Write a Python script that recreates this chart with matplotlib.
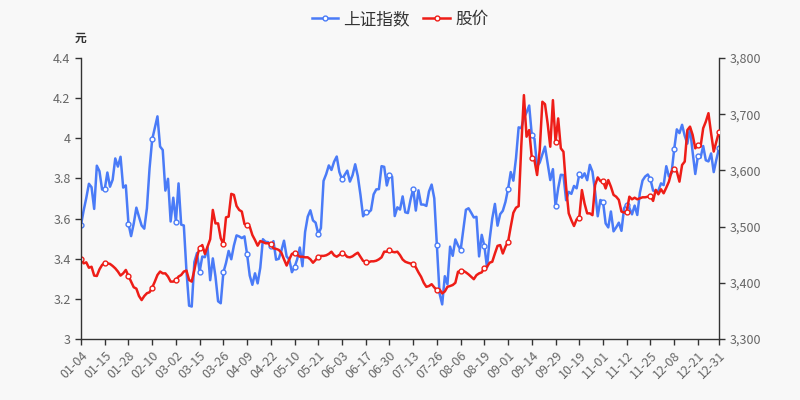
import matplotlib.pyplot as plt
import numpy as np
import pandas as pd

plt.rcParams['font.family'] = ['Noto Sans CJK SC', 'DejaVu Sans']

# trading days of 2021 (weekdays minus exchange holidays)
holidays = ['2021-01-01', '2021-02-11', '2021-02-12', '2021-02-15', '2021-02-16',
            '2021-02-17', '2021-04-05', '2021-05-03', '2021-05-04', '2021-05-05',
            '2021-06-14', '2021-09-20', '2021-09-21', '2021-10-01', '2021-10-04',
            '2021-10-05', '2021-10-06', '2021-10-07']
days = pd.bdate_range('2021-01-04', '2021-12-31')
days = days[~days.isin(pd.to_datetime(holidays))]
dates = [d.strftime('%m-%d') for d in days]

# 上证指数 (right axis)
index_jan = [3502.96, 3528.68, 3550.88, 3576.20, 3570.11, 3531.50, 3608.34, 3598.65, 3565.90, 3566.38,
             3596.22, 3571.00, 3583.35, 3621.26, 3606.75, 3624.24, 3569.43, 3573.34, 3505.18, 3483.07]
index_feb = [3505.28, 3533.68, 3517.31, 3501.86, 3496.33, 3532.44, 3603.49, 3655.09, 3675.36, 3696.17,
             3642.44, 3636.36, 3564.08, 3585.05, 3509.08]
index_mar = [3551.40, 3508.59, 3576.90, 3503.49, 3501.99, 3421.41, 3359.29, 3357.74, 3436.83, 3453.08,
             3419.95, 3446.73, 3445.55, 3463.07, 3404.66, 3443.44, 3411.51, 3367.06, 3363.59, 3418.33,
             3435.30, 3456.68, 3441.91]
index_apr = [3466.33, 3484.39, 3482.48, 3479.63, 3482.56, 3450.68, 3412.95, 3396.47, 3416.86, 3398.99,
             3426.62, 3477.55, 3472.94, 3472.31, 3465.11, 3474.17, 3441.17, 3442.61, 3457.07, 3474.90,
             3446.86]
index_may = [3441.28, 3418.87, 3427.99, 3441.85, 3462.75, 3429.54, 3490.38, 3517.62, 3529.01, 3510.96,
             3506.94, 3486.56, 3497.28, 3581.34, 3593.36, 3608.85, 3600.78, 3615.48]
index_jun = [3624.71, 3597.14, 3584.22, 3591.84, 3599.54, 3580.11, 3591.40, 3610.86, 3589.75, 3556.56,
             3518.33, 3525.10, 3525.00, 3529.18, 3557.41, 3566.22, 3566.65, 3607.56, 3606.37, 3573.18,
             3591.20]
index_jul = [3588.78, 3518.76, 3534.32, 3530.26, 3553.72, 3525.50, 3524.09, 3547.84, 3566.73, 3528.50,
             3564.59, 3539.30, 3539.12, 3536.79, 3562.64, 3574.73, 3550.40, 3467.44, 3381.18, 3361.59,
             3411.72, 3397.36]
index_aug = [3464.29, 3447.99, 3477.22, 3466.56, 3458.23, 3494.63, 3529.93, 3532.62, 3524.74, 3516.30,
             3517.34, 3446.98, 3485.29, 3465.55, 3427.33, 3477.13, 3514.47, 3540.38, 3501.66, 3522.16,
             3528.15, 3543.94]
index_sep = [3567.10, 3597.04, 3581.73, 3621.86, 3676.59, 3675.19, 3693.13, 3703.11, 3715.37, 3662.60,
             3656.22, 3607.09, 3613.97, 3628.49, 3642.22, 3613.07, 3582.83, 3602.22, 3536.29, 3568.17]
index_oct = [3592.17, 3591.71, 3546.94, 3561.76, 3558.28, 3572.37, 3568.14, 3593.15, 3587.00, 3594.78,
             3582.60, 3609.86, 3597.64, 3562.31, 3518.42, 3547.34]
index_nov = [3544.48, 3505.63, 3498.54, 3526.87, 3491.57, 3498.63, 3507.00, 3492.46, 3532.79, 3539.10,
             3533.30, 3521.79, 3537.37, 3520.71, 3560.37, 3582.08, 3589.09, 3592.70, 3584.18, 3564.09,
             3562.70, 3563.89]
index_dec = [3576.89, 3573.84, 3607.43, 3589.31, 3595.09, 3637.57, 3673.04, 3666.35, 3681.08, 3661.53,
             3647.63, 3675.02, 3632.36, 3593.60, 3625.13, 3622.62, 3643.34, 3618.05, 3615.97, 3630.11,
             3597.00, 3619.19, 3639.78]

# 股价 (left axis, 元)
price_1 = [3.397, 3.377, 3.382, 3.355, 3.360, 3.316, 3.314, 3.347, 3.369, 3.379,
           3.377, 3.374, 3.364, 3.352, 3.336, 3.316, 3.327, 3.344, 3.314, 3.286,
           3.258, 3.251, 3.214, 3.194, 3.214, 3.228, 3.233, 3.256, 3.286, 3.319,
           3.336, 3.327, 3.327, 3.311, 3.286, 3.286, 3.294, 3.311, 3.319, 3.336]
price_2 = [3.341, 3.294, 3.286, 3.344, 3.410, 3.455, 3.468, 3.424, 3.460, 3.497,
           3.643, 3.576, 3.576, 3.502, 3.472, 3.606, 3.610, 3.723, 3.718, 3.663,
           3.643, 3.635, 3.573, 3.566, 3.560, 3.518, 3.493, 3.465, 3.488, 3.483,
           3.477, 3.477, 3.473, 3.452, 3.449, 3.444, 3.430, 3.397, 3.366, 3.397]
price_3 = [3.424, 3.427, 3.419, 3.410, 3.410, 3.407, 3.407, 3.397, 3.380, 3.394,
           3.410, 3.414, 3.414, 3.417, 3.424, 3.435, 3.417, 3.410, 3.419, 3.427,
           3.422, 3.409, 3.407, 3.412, 3.422, 3.430, 3.410, 3.389, 3.385, 3.382,
           3.387, 3.387, 3.390, 3.397, 3.407, 3.435, 3.435, 3.444, 3.435, 3.432]
price_4 = [3.435, 3.418, 3.396, 3.385, 3.380, 3.376, 3.376, 3.357, 3.332, 3.310,
           3.280, 3.260, 3.264, 3.273, 3.257, 3.244, 3.247, 3.227, 3.237, 3.260,
           3.264, 3.269, 3.280, 3.335, 3.337, 3.340, 3.332, 3.322, 3.310, 3.298,
           3.318, 3.327, 3.332, 3.355, 3.360, 3.380, 3.385, 3.426, 3.464, 3.468]
price_5 = [3.426, 3.460, 3.485, 3.559, 3.629, 3.654, 3.662, 3.960, 4.215, 4.008,
           4.041, 3.902, 3.891, 3.817, 3.941, 4.182, 4.170, 4.074, 3.958, 4.190,
           3.983, 4.099, 3.950, 3.933, 3.758, 3.626, 3.592, 3.563, 3.596, 3.604,
           3.742, 3.675, 3.626, 3.626, 3.617, 3.767, 3.805, 3.787, 3.787, 3.750]
price_6 = [3.792, 3.759, 3.718, 3.709, 3.693, 3.635, 3.630, 3.635, 3.709, 3.696,
           3.704, 3.696, 3.701, 3.706, 3.706, 3.709, 3.713, 3.688, 3.743, 3.721,
           3.746, 3.726, 3.754, 3.784, 3.834, 3.846, 3.834, 3.784, 3.867, 3.884,
           4.041, 4.058, 4.017, 3.950, 3.967, 3.958, 4.050, 4.083, 4.125, 4.025,
           3.934, 3.983, 4.033]

index_vals = (index_jan + index_feb + index_mar + index_apr + index_may + index_jun +
              index_jul + index_aug + index_sep + index_oct + index_nov + index_dec)
price_vals = price_1 + price_2 + price_3 + price_4 + price_5 + price_6

x = np.arange(len(dates))
shown = list(range(0, len(dates), 9))
if shown[-1] != len(dates) - 1:
    shown.append(len(dates) - 1)

blue = '#4a7bf7'
red = '#ee1d17'
bg = '#f8f8f8'

fig = plt.figure(figsize=(8, 4), dpi=100, facecolor=bg)
ax = fig.add_axes([0.10125, 0.1525, 0.7975, 0.7025])
ax2 = ax.twinx()
ax.set_zorder(ax2.get_zorder() + 1)
ax.patch.set_visible(False)
ax2.set_facecolor(bg)

ax2.plot(x, index_vals, color=blue, lw=1.8, marker='o', markevery=shown, ms=3.5,
         mfc='white', mec=blue, mew=1, label='上证指数')
ax.plot(x, price_vals, color=red, lw=1.8, marker='o', markevery=shown, ms=3.5,
        mfc='white', mec=red, mew=1, label='股价')

ax.set_xlim(0, len(dates) - 1)
ax.set_ylim(3, 4.4)
ax2.set_ylim(3300, 3800)
ax.set_yticks(np.arange(3, 4.41, 0.2))
ax.set_yticklabels([f'{v:g}' for v in np.arange(3, 4.41, 0.2).round(1)])
ax2.set_yticks(range(3300, 3801, 100))
ax2.set_yticklabels([f'{v:,}' for v in range(3300, 3801, 100)])

ax.set_xticks(shown)
ax.set_xticklabels([dates[i] for i in shown], rotation=45, ha='right', rotation_mode='anchor')

for a in (ax, ax2):
    a.spines['top'].set_visible(False)
    for s in a.spines.values():
        s.set_color('#333333')
        s.set_linewidth(1)
    a.tick_params(colors='#333333', labelcolor='#666666', labelsize=9, length=4, width=1)
ax.spines['right'].set_visible(False)
ax2.spines['left'].set_visible(False)
ax2.spines['bottom'].set_visible(False)

ax.text(0, 1.07, '元', transform=ax.transAxes, ha='center', va='center',
        fontsize=8.5, fontweight='bold', color='#333333')

h1, l1 = ax2.get_legend_handles_labels()
h2, l2 = ax.get_legend_handles_labels()
fig.legend(h1 + h2, l1 + l2, loc='upper center', bbox_to_anchor=(0.5, 1.01), ncol=2,
           frameon=False, fontsize=12, handlelength=1.6, handletextpad=0.3,
           columnspacing=0.8, labelcolor='#333333')

fig.savefig('out.png', dpi=100, facecolor=bg)
